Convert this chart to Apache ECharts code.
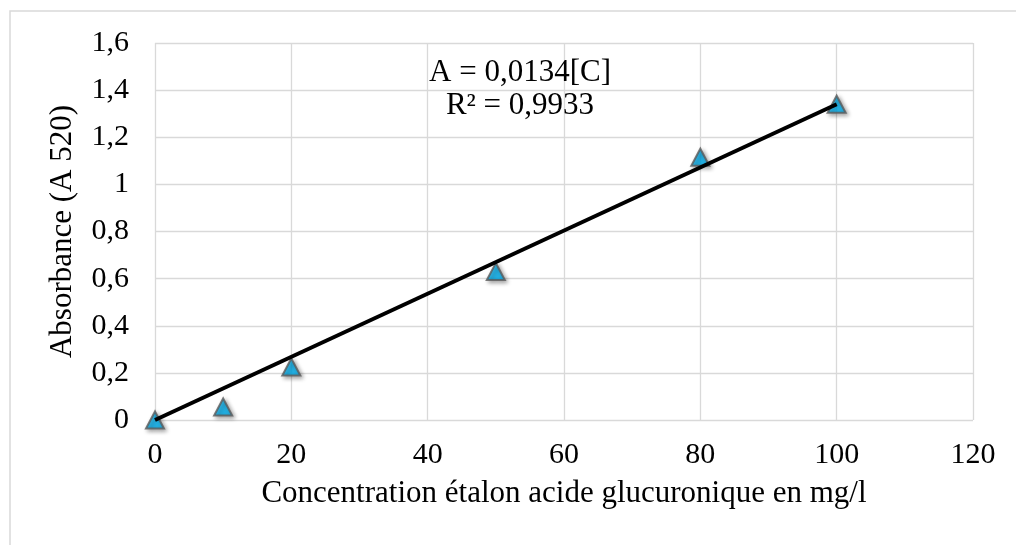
<!DOCTYPE html>
<html>
<head>
<meta charset="utf-8">
<script src="https://cdn.jsdelivr.net/npm/echarts@6/dist/echarts.min.js"></script>
<style>
html,body{margin:0;padding:0;background:#fff;}
#chart{width:1016px;height:545px;}
</style>
</head>
<body>
<div id="chart"></div>
<script>
var concentrations = [0, 10, 20, 50, 80, 100];
var absorbances = [0, 0.055, 0.225, 0.63, 1.115, 1.34];
var trendX = [0, 100];
var trendY = [0, 1.34];
var equationLines = ['A = 0,0134[C]', 'R² = 0,9933'];
var xAxisTitle = 'Concentration étalon acide glucuronique en mg/l';
var yAxisTitle = 'Absorbance (A 520)';

var font = '"Liberation Serif", "Times New Roman", serif';
var chart = echarts.init(document.getElementById('chart'));
var pts = concentrations.map(function (c, i) { return [c, absorbances[i]]; });
var trend = trendX.map(function (c, i) { return [c, trendY[i]]; });

chart.setOption({
  animation: false,
  backgroundColor: '#fff',
  grid: { left: 155, right: 43, top: 43, bottom: 125, containLabel: false },
  xAxis: {
    type: 'value', min: 0, max: 120, interval: 20,
    name: xAxisTitle, nameLocation: 'middle', nameGap: 58,
    nameTextStyle: { fontFamily: font, fontSize: 31, color: '#000' },
    axisLine: { show: false },
    axisTick: { show: false },
    axisLabel: { fontFamily: font, fontSize: 30, color: '#000', margin: 20 },
    splitLine: { show: true, lineStyle: { color: '#d9d9d9', width: 1.3 } }
  },
  yAxis: {
    type: 'value', min: 0, max: 1.6, interval: 0.2,
    name: yAxisTitle, nameLocation: 'middle', nameGap: 77, nameRotate: 90,
    nameTextStyle: { fontFamily: font, fontSize: 31, color: '#000', padding: [0, 0, 0, 0] },
    axisLine: { show: false },
    axisTick: { show: false },
    axisLabel: {
      fontFamily: font, fontSize: 30, color: '#000', margin: 26,
      formatter: function (v) { return String(Math.round(v * 10) / 10).replace('.', ','); }
    },
    splitLine: { show: true, lineStyle: { color: '#d9d9d9', width: 1.3 } }
  },
  series: [
    {
      type: 'scatter', data: pts, symbol: 'triangle', symbolSize: [18, 17], z: 2,
      itemStyle: {
        color: '#00B0F0', borderColor: '#5a5a5a', borderWidth: 2,
        shadowBlur: 4, shadowColor: 'rgba(0,0,0,0.4)', shadowOffsetX: 2, shadowOffsetY: 2
      }
    },
    {
      type: 'line', data: trend, showSymbol: false, symbol: 'none', z: 5,
      lineStyle: { color: '#000', width: 4 }
    }
  ],
  graphic: [
    {
      type: 'rect', silent: true, z: -1,
      shape: { x: 10, y: 11, width: 1200, height: 700 },
      style: { fill: 'none', stroke: '#d9d9d9', lineWidth: 1.5 }
    },
    {
      type: 'text', z: 10,
      x: 520, y: 56,
      style: {
        text: equationLines.join('\n'),
        font: '31px ' + font, fill: '#000', textAlign: 'center', textVerticalAlign: 'top', lineHeight: 33
      }
    }
  ]
});
</script>
</body>
</html>
